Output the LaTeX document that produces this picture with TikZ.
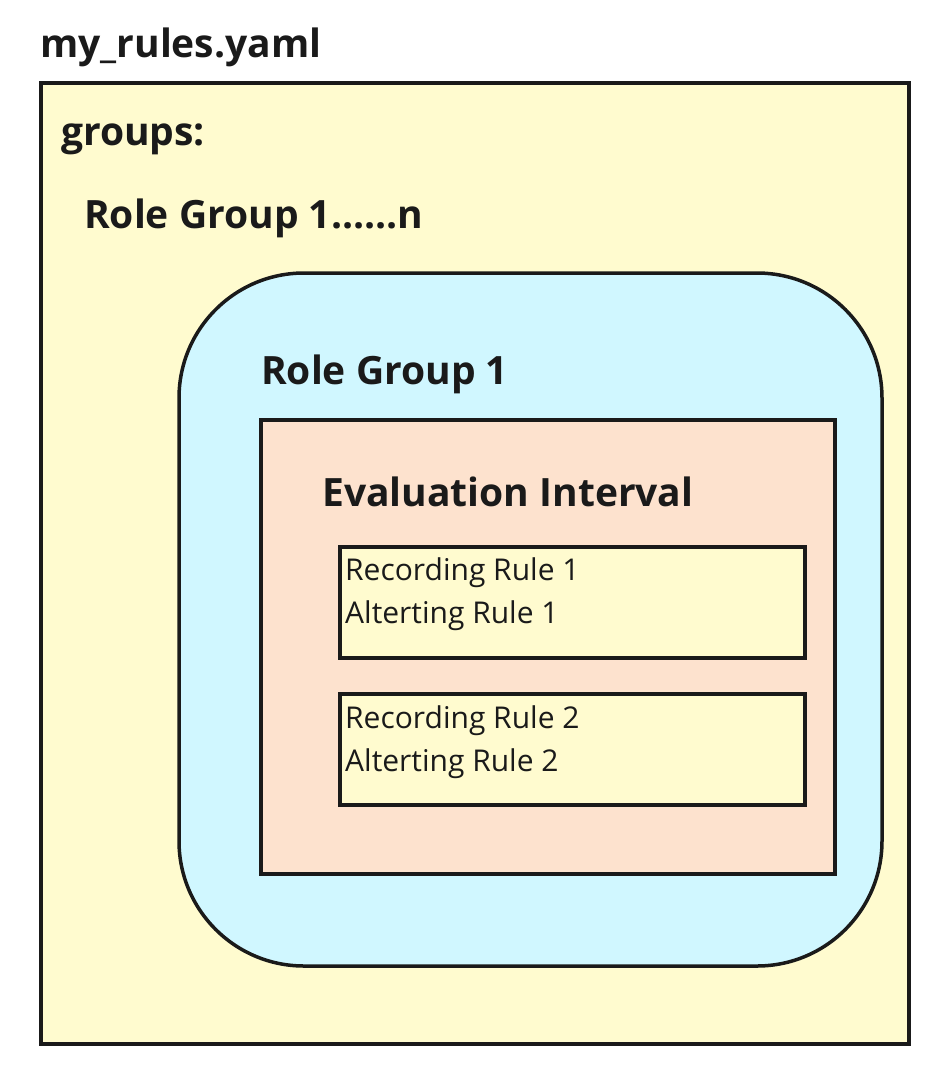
\documentclass[tikz,border=0pt]{standalone}
\usepackage{fontspec}
\setmainfont{Open Sans}
\definecolor{lineC}{HTML}{1A1A1A}
\definecolor{yellowC}{HTML}{FFFBCF}
\definecolor{blueC}{HTML}{D0F7FF}
\definecolor{peachC}{HTML}{FDE2CE}
\tikzset{
  box/.style={draw=lineC, line width=3.5pt},
  headtext/.style={anchor=base west, inner sep=0pt, text=lineC, font=\fontsize{39}{46}\selectfont\bfseries},
  ruletext/.style={anchor=base west, inner sep=0pt, text=lineC, font=\fontsize{30}{36}\selectfont},
}
\begin{document}
\begin{tikzpicture}[x=1pt,y=-1pt]
\useasboundingbox (0,0) rectangle (934,1069);
\fill[white] (0,0) rectangle (934,1069);
% outer file box
\draw[box, fill=yellowC] (41,83) rectangle (909,1044);
\node[headtext] (title) at (40,57) {my\_rules.yaml};
\node[headtext] (groups) at (61,145) {groups:};
\node[headtext] (rgn) at (84,228) {Role Group 1......n};
% role group
\draw[box, fill=blueC, rounded corners=125pt] (179,273) rectangle (882,966);
\node[headtext] (rg1) at (261,384) {Role Group 1};
% evaluation interval
\draw[box, fill=peachC] (261,420) rectangle (835,874);
\node[headtext] (eval) at (322,506) {Evaluation Interval};
% rule boxes
\draw[box, fill=yellowC] (340,547) rectangle (805,658);
\node[ruletext] (rr1) at (345,580) {Recording Rule 1};
\node[ruletext] (ar1) at (345,623) {Alterting Rule 1};
\draw[box, fill=yellowC] (340,694) rectangle (805,805);
\node[ruletext] (rr2) at (345,728) {Recording Rule 2};
\node[ruletext] (ar2) at (345,771) {Alterting Rule 2};
\end{tikzpicture}
\end{document}
